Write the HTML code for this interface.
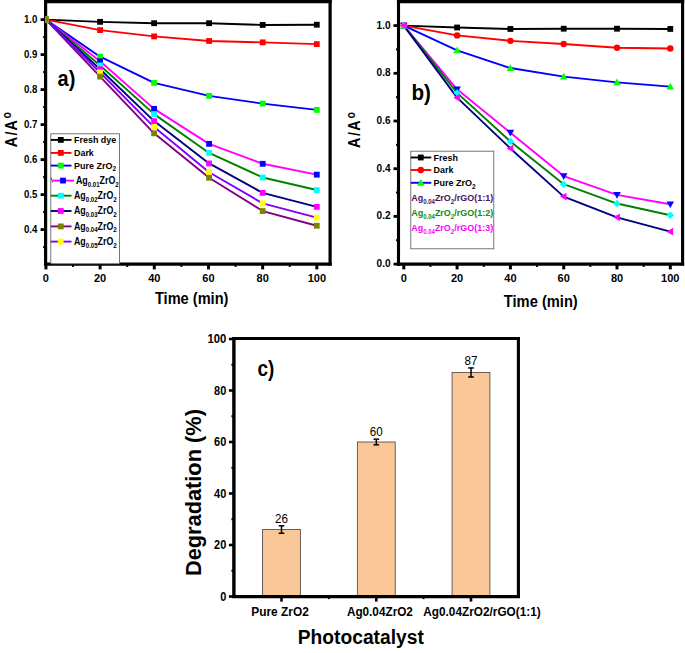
<!DOCTYPE html>
<html><head><meta charset="utf-8"><style>
html,body{margin:0;padding:0;background:#fff;}
body{width:685px;height:653px;overflow:hidden;}
svg{display:block;font-family:"Liberation Sans", sans-serif;}
</style></head><body>
<svg width="685" height="653" viewBox="0 0 685 653">
<rect width="685" height="653" fill="#fff"/>
<g id="chartA">
<line x1="45.6" y1="0" x2="45.6" y2="265.7" stroke="#000" stroke-width="3.2" />
<line x1="44" y1="264.1" x2="331.7" y2="264.1" stroke="#000" stroke-width="3.1" />
<line x1="330.1" y1="0" x2="330.1" y2="265.6" stroke="#000" stroke-width="3.2" />
<line x1="44" y1="1.6" x2="331.7" y2="1.6" stroke="#000" stroke-width="3.2" />
<line x1="40.6" y1="229.6" x2="45.6" y2="229.6" stroke="#000" stroke-width="2.8" />
<text x="37.3" y="232.6" font-size="11" font-weight="bold" text-anchor="end" fill="#000" textLength="13.4" lengthAdjust="spacingAndGlyphs" >0.4</text>
<line x1="40.6" y1="194.6" x2="45.6" y2="194.6" stroke="#000" stroke-width="2.8" />
<text x="37.3" y="197.6" font-size="11" font-weight="bold" text-anchor="end" fill="#000" textLength="13.4" lengthAdjust="spacingAndGlyphs" >0.5</text>
<line x1="40.6" y1="159.6" x2="45.6" y2="159.6" stroke="#000" stroke-width="2.8" />
<text x="37.3" y="162.6" font-size="11" font-weight="bold" text-anchor="end" fill="#000" textLength="13.4" lengthAdjust="spacingAndGlyphs" >0.6</text>
<line x1="40.6" y1="124.6" x2="45.6" y2="124.6" stroke="#000" stroke-width="2.8" />
<text x="37.3" y="127.6" font-size="11" font-weight="bold" text-anchor="end" fill="#000" textLength="13.4" lengthAdjust="spacingAndGlyphs" >0.7</text>
<line x1="40.6" y1="89.6" x2="45.6" y2="89.6" stroke="#000" stroke-width="2.8" />
<text x="37.3" y="92.6" font-size="11" font-weight="bold" text-anchor="end" fill="#000" textLength="13.4" lengthAdjust="spacingAndGlyphs" >0.8</text>
<line x1="40.6" y1="54.6" x2="45.6" y2="54.6" stroke="#000" stroke-width="2.8" />
<text x="37.3" y="57.6" font-size="11" font-weight="bold" text-anchor="end" fill="#000" textLength="13.4" lengthAdjust="spacingAndGlyphs" >0.9</text>
<line x1="40.6" y1="19.6" x2="45.6" y2="19.6" stroke="#000" stroke-width="2.8" />
<text x="37.3" y="22.6" font-size="11" font-weight="bold" text-anchor="end" fill="#000" textLength="13.4" lengthAdjust="spacingAndGlyphs" >1.0</text>
<line x1="43.1" y1="247.1" x2="45.6" y2="247.1" stroke="#000" stroke-width="2" />
<line x1="43.1" y1="212.1" x2="45.6" y2="212.1" stroke="#000" stroke-width="2" />
<line x1="43.1" y1="177.1" x2="45.6" y2="177.1" stroke="#000" stroke-width="2" />
<line x1="43.1" y1="142.1" x2="45.6" y2="142.1" stroke="#000" stroke-width="2" />
<line x1="43.1" y1="107.1" x2="45.6" y2="107.1" stroke="#000" stroke-width="2" />
<line x1="43.1" y1="72.1" x2="45.6" y2="72.1" stroke="#000" stroke-width="2" />
<line x1="43.1" y1="37.1" x2="45.6" y2="37.1" stroke="#000" stroke-width="2" />
<line x1="45.93" y1="264.1" x2="45.93" y2="269.4" stroke="#000" stroke-width="3" />
<text x="45.93" y="281.6" font-size="11" font-weight="bold" text-anchor="middle" fill="#000" >0</text>
<line x1="100.11" y1="264.1" x2="100.11" y2="269.4" stroke="#000" stroke-width="3" />
<text x="100.11" y="281.6" font-size="11" font-weight="bold" text-anchor="middle" fill="#000" >20</text>
<line x1="154.29" y1="264.1" x2="154.29" y2="269.4" stroke="#000" stroke-width="3" />
<text x="154.29" y="281.6" font-size="11" font-weight="bold" text-anchor="middle" fill="#000" >40</text>
<line x1="208.47" y1="264.1" x2="208.47" y2="269.4" stroke="#000" stroke-width="3" />
<text x="208.47" y="281.6" font-size="11" font-weight="bold" text-anchor="middle" fill="#000" >60</text>
<line x1="262.65" y1="264.1" x2="262.65" y2="269.4" stroke="#000" stroke-width="3" />
<text x="262.65" y="281.6" font-size="11" font-weight="bold" text-anchor="middle" fill="#000" >80</text>
<line x1="316.83" y1="264.1" x2="316.83" y2="269.4" stroke="#000" stroke-width="3" />
<text x="316.83" y="281.6" font-size="11" font-weight="bold" text-anchor="middle" fill="#000" >100</text>
<line x1="73.02" y1="264.1" x2="73.02" y2="266.9" stroke="#000" stroke-width="2" />
<line x1="127.2" y1="264.1" x2="127.2" y2="266.9" stroke="#000" stroke-width="2" />
<line x1="181.38" y1="264.1" x2="181.38" y2="266.9" stroke="#000" stroke-width="2" />
<line x1="235.56" y1="264.1" x2="235.56" y2="266.9" stroke="#000" stroke-width="2" />
<line x1="289.74" y1="264.1" x2="289.74" y2="266.9" stroke="#000" stroke-width="2" />
<text x="191.7" y="303.7" font-size="16" font-weight="bold" text-anchor="middle" fill="#000" textLength="73.5" lengthAdjust="spacingAndGlyphs" >Time (min)</text>
<text transform="translate(16.6,0) rotate(-90) scale(0.84,1)" font-size="17" font-weight="bold"><tspan x="-175.24" y="0">A</tspan><tspan x="-161.43" y="0">/</tspan><tspan x="-155.48" y="0">A</tspan><tspan x="-141.19" y="-5.2" font-size="12.5">o</tspan></text>
<text x="57.6" y="85.6" font-size="22" font-weight="bold" text-anchor="start" fill="#000" textLength="17.8" lengthAdjust="spacingAndGlyphs" >a)</text>
<clipPath id="clipA"><rect x="45.4" y="0" width="290" height="264"/></clipPath>
<g clip-path="url(#clipA)">
<polyline points="45.95,19.6 100.1,21.84 154.1,23.2 209.1,23.2 262.7,24.95 316.8,24.71" fill="none" stroke="#000000" stroke-width="1.9" stroke-linejoin="round"/>
<polyline points="45.95,19.6 100.1,30.1 154.1,36.4 209.1,40.95 262.7,42.35 316.8,44.1" fill="none" stroke="#FF0000" stroke-width="1.9" stroke-linejoin="round"/>
<polyline points="45.95,19.6 100.1,56.7 154.1,82.95 209.1,95.9 262.7,103.6 316.8,109.9" fill="none" stroke="#0000FF" stroke-width="1.9" stroke-linejoin="round"/>
<polyline points="45.95,19.6 100.1,61.25 154.1,108.85 209.1,143.85 262.7,163.8 316.8,174.65" fill="none" stroke="#FF00FF" stroke-width="1.9" stroke-linejoin="round"/>
<polyline points="45.95,19.6 100.1,65.45 154.1,114.1 209.1,152.95 262.7,177.45 316.8,190.05" fill="none" stroke="#008000" stroke-width="1.9" stroke-linejoin="round"/>
<polyline points="45.95,19.6 100.1,69.3 154.1,121.1 209.1,163.45 262.7,192.85 316.8,206.85" fill="none" stroke="#000080" stroke-width="1.9" stroke-linejoin="round"/>
<polyline points="45.95,19.6 100.1,76.65 154.1,133.35 209.1,177.8 262.7,211.05 316.8,225.75" fill="none" stroke="#800080" stroke-width="1.9" stroke-linejoin="round"/>
<polyline points="45.95,19.6 100.1,72.45 154.1,127.05 209.1,172.2 262.7,203.35 316.8,217.7" fill="none" stroke="#8000FF" stroke-width="1.9" stroke-linejoin="round"/>
<rect x="43.05" y="16.7" width="5.8" height="5.8" fill="#000000"/>
<rect x="97.2" y="18.94" width="5.8" height="5.8" fill="#000000"/>
<rect x="151.2" y="20.3" width="5.8" height="5.8" fill="#000000"/>
<rect x="206.2" y="20.3" width="5.8" height="5.8" fill="#000000"/>
<rect x="259.8" y="22.05" width="5.8" height="5.8" fill="#000000"/>
<rect x="313.9" y="21.81" width="5.8" height="5.8" fill="#000000"/>
<rect x="43.05" y="16.7" width="5.8" height="5.8" fill="#FF0000"/>
<rect x="97.2" y="27.2" width="5.8" height="5.8" fill="#FF0000"/>
<rect x="151.2" y="33.5" width="5.8" height="5.8" fill="#FF0000"/>
<rect x="206.2" y="38.05" width="5.8" height="5.8" fill="#FF0000"/>
<rect x="259.8" y="39.45" width="5.8" height="5.8" fill="#FF0000"/>
<rect x="313.9" y="41.2" width="5.8" height="5.8" fill="#FF0000"/>
<rect x="43.05" y="16.7" width="5.8" height="5.8" fill="#00FF00"/>
<rect x="97.2" y="53.8" width="5.8" height="5.8" fill="#00FF00"/>
<rect x="151.2" y="80.05" width="5.8" height="5.8" fill="#00FF00"/>
<rect x="206.2" y="93" width="5.8" height="5.8" fill="#00FF00"/>
<rect x="259.8" y="100.7" width="5.8" height="5.8" fill="#00FF00"/>
<rect x="313.9" y="107" width="5.8" height="5.8" fill="#00FF00"/>
<rect x="43.05" y="16.7" width="5.8" height="5.8" fill="#0000FF"/>
<rect x="97.2" y="58.35" width="5.8" height="5.8" fill="#0000FF"/>
<rect x="151.2" y="105.95" width="5.8" height="5.8" fill="#0000FF"/>
<rect x="206.2" y="140.95" width="5.8" height="5.8" fill="#0000FF"/>
<rect x="259.8" y="160.9" width="5.8" height="5.8" fill="#0000FF"/>
<rect x="313.9" y="171.75" width="5.8" height="5.8" fill="#0000FF"/>
<rect x="43.05" y="16.7" width="5.8" height="5.8" fill="#00FFFF"/>
<rect x="97.2" y="62.55" width="5.8" height="5.8" fill="#00FFFF"/>
<rect x="151.2" y="111.2" width="5.8" height="5.8" fill="#00FFFF"/>
<rect x="206.2" y="150.05" width="5.8" height="5.8" fill="#00FFFF"/>
<rect x="259.8" y="174.55" width="5.8" height="5.8" fill="#00FFFF"/>
<rect x="313.9" y="187.15" width="5.8" height="5.8" fill="#00FFFF"/>
<rect x="43.05" y="16.7" width="5.8" height="5.8" fill="#FF00FF"/>
<rect x="97.2" y="66.4" width="5.8" height="5.8" fill="#FF00FF"/>
<rect x="151.2" y="118.2" width="5.8" height="5.8" fill="#FF00FF"/>
<rect x="206.2" y="160.55" width="5.8" height="5.8" fill="#FF00FF"/>
<rect x="259.8" y="189.95" width="5.8" height="5.8" fill="#FF00FF"/>
<rect x="313.9" y="203.95" width="5.8" height="5.8" fill="#FF00FF"/>
<rect x="43.05" y="16.7" width="5.8" height="5.8" fill="#FFFF00"/>
<rect x="97.2" y="69.55" width="5.8" height="5.8" fill="#FFFF00"/>
<rect x="151.2" y="124.15" width="5.8" height="5.8" fill="#FFFF00"/>
<rect x="206.2" y="169.3" width="5.8" height="5.8" fill="#FFFF00"/>
<rect x="259.8" y="200.45" width="5.8" height="5.8" fill="#FFFF00"/>
<rect x="313.9" y="214.8" width="5.8" height="5.8" fill="#FFFF00"/>
<rect x="43.05" y="16.7" width="5.8" height="5.8" fill="#808000"/>
<rect x="97.2" y="73.75" width="5.8" height="5.8" fill="#808000"/>
<rect x="151.2" y="130.45" width="5.8" height="5.8" fill="#808000"/>
<rect x="206.2" y="174.9" width="5.8" height="5.8" fill="#808000"/>
<rect x="259.8" y="208.15" width="5.8" height="5.8" fill="#808000"/>
<rect x="313.9" y="222.85" width="5.8" height="5.8" fill="#808000"/>
</g>
<rect x="50.8" y="133.8" width="68.6" height="130" fill="#fff" stroke="#555" stroke-width="0.8"/>
<line x1="51.4" y1="177.6" x2="52.4" y2="182.6" stroke="#444" stroke-width="0.9" />
<line x1="50.8" y1="139.9" x2="71.5" y2="139.9" stroke="#000000" stroke-width="1.9" />
<rect x="57.9" y="137" width="5.8" height="5.8" fill="#000000"/>
<text x="74" y="143.3" font-size="9.6" font-weight="bold" text-anchor="start" fill="#000" textLength="42.3" lengthAdjust="spacingAndGlyphs" >Fresh dye</text>
<line x1="50.8" y1="152.9" x2="71.5" y2="152.9" stroke="#FF0000" stroke-width="1.9" />
<rect x="57.9" y="150" width="5.8" height="5.8" fill="#FF0000"/>
<text x="74" y="156.3" font-size="9.6" font-weight="bold" text-anchor="start" fill="#000" textLength="19.8" lengthAdjust="spacingAndGlyphs" >Dark</text>
<line x1="50.8" y1="165.6" x2="71.5" y2="165.6" stroke="#0000FF" stroke-width="1.9" />
<rect x="57.9" y="162.7" width="5.8" height="5.8" fill="#00FF00"/>
<text x="74" y="169" font-size="9.6" font-weight="bold" text-anchor="start" fill="#000" textLength="42" lengthAdjust="spacingAndGlyphs" >Pure ZrO<tspan font-size="6.8" dy="2.4">2</tspan></text>
<line x1="52.5" y1="180.6" x2="74" y2="180.6" stroke="#FF00FF" stroke-width="1.9" />
<rect x="60.1" y="177.7" width="5.8" height="5.8" fill="#0000FF"/>
<text x="76" y="184" font-size="10.2" font-weight="bold" text-anchor="start" fill="#000" textLength="42.8" lengthAdjust="spacingAndGlyphs" >Ag<tspan font-size="7" dy="2.6">0.01</tspan><tspan dy="-2.6">ZrO</tspan><tspan font-size="7.3" dy="2.6">2</tspan></text>
<line x1="50.8" y1="195.7" x2="71.5" y2="195.7" stroke="#008000" stroke-width="1.9" />
<rect x="57.9" y="192.8" width="5.8" height="5.8" fill="#00FFFF"/>
<text x="74" y="199.1" font-size="10.2" font-weight="bold" text-anchor="start" fill="#000" textLength="42.8" lengthAdjust="spacingAndGlyphs" >Ag<tspan font-size="7" dy="2.6">0.02</tspan><tspan dy="-2.6">ZrO</tspan><tspan font-size="7.3" dy="2.6">2</tspan></text>
<line x1="50.8" y1="211" x2="71.5" y2="211" stroke="#000080" stroke-width="1.9" />
<rect x="57.9" y="208.1" width="5.8" height="5.8" fill="#FF00FF"/>
<text x="74" y="214.4" font-size="10.2" font-weight="bold" text-anchor="start" fill="#000" textLength="42.8" lengthAdjust="spacingAndGlyphs" >Ag<tspan font-size="7" dy="2.6">0.03</tspan><tspan dy="-2.6">ZrO</tspan><tspan font-size="7.3" dy="2.6">2</tspan></text>
<line x1="50.8" y1="226.4" x2="71.5" y2="226.4" stroke="#800080" stroke-width="1.9" />
<rect x="57.9" y="223.5" width="5.8" height="5.8" fill="#808000"/>
<text x="74" y="229.8" font-size="10.2" font-weight="bold" text-anchor="start" fill="#000" textLength="42.8" lengthAdjust="spacingAndGlyphs" >Ag<tspan font-size="7" dy="2.6">0.04</tspan><tspan dy="-2.6">ZrO</tspan><tspan font-size="7.3" dy="2.6">2</tspan></text>
<line x1="50.8" y1="241.6" x2="71.5" y2="241.6" stroke="#8000FF" stroke-width="1.9" />
<rect x="57.9" y="238.7" width="5.8" height="5.8" fill="#FFFF00"/>
<text x="74" y="245" font-size="10.2" font-weight="bold" text-anchor="start" fill="#000" textLength="42.8" lengthAdjust="spacingAndGlyphs" >Ag<tspan font-size="7" dy="2.6">0.05</tspan><tspan dy="-2.6">ZrO</tspan><tspan font-size="7.3" dy="2.6">2</tspan></text>
</g>
<g id="chartB">
<line x1="398.5" y1="0" x2="398.5" y2="265.7" stroke="#000" stroke-width="3.1" />
<line x1="396.9" y1="264.1" x2="684.2" y2="264.1" stroke="#000" stroke-width="3.1" />
<line x1="682.6" y1="0" x2="682.6" y2="265.6" stroke="#000" stroke-width="3.1" />
<line x1="396.9" y1="1.6" x2="684.2" y2="1.6" stroke="#000" stroke-width="3.2" />
<line x1="393.5" y1="264.1" x2="398.5" y2="264.1" stroke="#000" stroke-width="2.8" />
<text x="390.6" y="267.1" font-size="11" font-weight="bold" text-anchor="end" fill="#000" textLength="14" lengthAdjust="spacingAndGlyphs" >0.0</text>
<line x1="393.5" y1="216.4" x2="398.5" y2="216.4" stroke="#000" stroke-width="2.8" />
<text x="390.6" y="219.4" font-size="11" font-weight="bold" text-anchor="end" fill="#000" textLength="14" lengthAdjust="spacingAndGlyphs" >0.2</text>
<line x1="393.5" y1="168.7" x2="398.5" y2="168.7" stroke="#000" stroke-width="2.8" />
<text x="390.6" y="171.7" font-size="11" font-weight="bold" text-anchor="end" fill="#000" textLength="14" lengthAdjust="spacingAndGlyphs" >0.4</text>
<line x1="393.5" y1="121" x2="398.5" y2="121" stroke="#000" stroke-width="2.8" />
<text x="390.6" y="124" font-size="11" font-weight="bold" text-anchor="end" fill="#000" textLength="14" lengthAdjust="spacingAndGlyphs" >0.6</text>
<line x1="393.5" y1="73.3" x2="398.5" y2="73.3" stroke="#000" stroke-width="2.8" />
<text x="390.6" y="76.3" font-size="11" font-weight="bold" text-anchor="end" fill="#000" textLength="14" lengthAdjust="spacingAndGlyphs" >0.8</text>
<line x1="393.5" y1="25.6" x2="398.5" y2="25.6" stroke="#000" stroke-width="2.8" />
<text x="390.6" y="28.6" font-size="11" font-weight="bold" text-anchor="end" fill="#000" textLength="14" lengthAdjust="spacingAndGlyphs" >1.0</text>
<line x1="396" y1="240.25" x2="398.5" y2="240.25" stroke="#000" stroke-width="2" />
<line x1="396" y1="192.55" x2="398.5" y2="192.55" stroke="#000" stroke-width="2" />
<line x1="396" y1="144.85" x2="398.5" y2="144.85" stroke="#000" stroke-width="2" />
<line x1="396" y1="97.15" x2="398.5" y2="97.15" stroke="#000" stroke-width="2" />
<line x1="396" y1="49.45" x2="398.5" y2="49.45" stroke="#000" stroke-width="2" />
<line x1="403.8" y1="264.1" x2="403.8" y2="269.4" stroke="#000" stroke-width="3" />
<text x="403.8" y="282.2" font-size="11" font-weight="bold" text-anchor="middle" fill="#000" >0</text>
<line x1="457.1" y1="264.1" x2="457.1" y2="269.4" stroke="#000" stroke-width="3" />
<text x="457.1" y="282.2" font-size="11" font-weight="bold" text-anchor="middle" fill="#000" >20</text>
<line x1="510.4" y1="264.1" x2="510.4" y2="269.4" stroke="#000" stroke-width="3" />
<text x="510.4" y="282.2" font-size="11" font-weight="bold" text-anchor="middle" fill="#000" >40</text>
<line x1="563.7" y1="264.1" x2="563.7" y2="269.4" stroke="#000" stroke-width="3" />
<text x="563.7" y="282.2" font-size="11" font-weight="bold" text-anchor="middle" fill="#000" >60</text>
<line x1="617" y1="264.1" x2="617" y2="269.4" stroke="#000" stroke-width="3" />
<text x="617" y="282.2" font-size="11" font-weight="bold" text-anchor="middle" fill="#000" >80</text>
<line x1="670.3" y1="264.1" x2="670.3" y2="269.4" stroke="#000" stroke-width="3" />
<text x="670.3" y="282.2" font-size="11" font-weight="bold" text-anchor="middle" fill="#000" >100</text>
<line x1="430.45" y1="264.1" x2="430.45" y2="266.9" stroke="#000" stroke-width="2" />
<line x1="483.75" y1="264.1" x2="483.75" y2="266.9" stroke="#000" stroke-width="2" />
<line x1="537.05" y1="264.1" x2="537.05" y2="266.9" stroke="#000" stroke-width="2" />
<line x1="590.35" y1="264.1" x2="590.35" y2="266.9" stroke="#000" stroke-width="2" />
<line x1="643.65" y1="264.1" x2="643.65" y2="266.9" stroke="#000" stroke-width="2" />
<text x="540.8" y="307.3" font-size="16" font-weight="bold" text-anchor="middle" fill="#000" textLength="73.9" lengthAdjust="spacingAndGlyphs" >Time (min)</text>
<text transform="translate(360.2,0) rotate(-90) scale(0.84,1)" font-size="17" font-weight="bold"><tspan x="-176.07" y="0">A</tspan><tspan x="-161.9" y="0">/</tspan><tspan x="-155.6" y="0">A</tspan><tspan x="-141.19" y="-5.2" font-size="12.5">o</tspan></text>
<text x="411.5" y="100" font-size="22" font-weight="bold" text-anchor="start" fill="#000" textLength="19.5" lengthAdjust="spacingAndGlyphs" >b)</text>
<polyline points="403.8,25.6 457.1,27.51 510.4,28.94 563.7,28.7 617,28.7 670.3,28.94" fill="none" stroke="#000000" stroke-width="1.9" stroke-linejoin="round"/>
<polyline points="403.8,25.6 457.1,35.38 510.4,40.86 563.7,43.96 617,47.78 670.3,48.5" fill="none" stroke="#FF0000" stroke-width="1.9" stroke-linejoin="round"/>
<polyline points="403.8,25.6 457.1,50.4 510.4,68.05 563.7,76.64 617,82.36 670.3,86.66" fill="none" stroke="#0000FF" stroke-width="1.9" stroke-linejoin="round"/>
<polyline points="403.8,25.6 457.1,89.28 510.4,132.69 563.7,176.09 617,194.93 670.3,204.24" fill="none" stroke="#FF00FF" stroke-width="1.9" stroke-linejoin="round"/>
<polyline points="403.8,25.6 457.1,92.86 510.4,141.51 563.7,184.2 617,203.52 670.3,215.21" fill="none" stroke="#008000" stroke-width="1.9" stroke-linejoin="round"/>
<polyline points="403.8,25.6 457.1,97.63 510.4,148.43 563.7,196.6 617,217.35 670.3,231.66" fill="none" stroke="#000080" stroke-width="1.9" stroke-linejoin="round"/>
<rect x="400.9" y="22.7" width="5.8" height="5.8" fill="#000000"/>
<rect x="454.2" y="24.61" width="5.8" height="5.8" fill="#000000"/>
<rect x="507.5" y="26.04" width="5.8" height="5.8" fill="#000000"/>
<rect x="560.8" y="25.8" width="5.8" height="5.8" fill="#000000"/>
<rect x="614.1" y="25.8" width="5.8" height="5.8" fill="#000000"/>
<rect x="667.4" y="26.04" width="5.8" height="5.8" fill="#000000"/>
<circle cx="403.8" cy="25.6" r="3.2" fill="#FF0000"/>
<circle cx="457.1" cy="35.38" r="3.2" fill="#FF0000"/>
<circle cx="510.4" cy="40.86" r="3.2" fill="#FF0000"/>
<circle cx="563.7" cy="43.96" r="3.2" fill="#FF0000"/>
<circle cx="617" cy="47.78" r="3.2" fill="#FF0000"/>
<circle cx="670.3" cy="48.5" r="3.2" fill="#FF0000"/>
<polygon points="403.8,21.8 407.6,28.45 400,28.45" fill="#00FF00"/>
<polygon points="457.1,46.6 460.9,53.25 453.3,53.25" fill="#00FF00"/>
<polygon points="510.4,64.25 514.2,70.9 506.6,70.9" fill="#00FF00"/>
<polygon points="563.7,72.84 567.5,79.49 559.9,79.49" fill="#00FF00"/>
<polygon points="617,78.56 620.8,85.21 613.2,85.21" fill="#00FF00"/>
<polygon points="670.3,82.86 674.1,89.51 666.5,89.51" fill="#00FF00"/>
<polygon points="403.8,29.4 407.6,22.75 400,22.75" fill="#0000FF"/>
<polygon points="457.1,93.08 460.9,86.43 453.3,86.43" fill="#0000FF"/>
<polygon points="510.4,136.49 514.2,129.84 506.6,129.84" fill="#0000FF"/>
<polygon points="563.7,179.89 567.5,173.24 559.9,173.24" fill="#0000FF"/>
<polygon points="617,198.73 620.8,192.08 613.2,192.08" fill="#0000FF"/>
<polygon points="670.3,208.04 674.1,201.39 666.5,201.39" fill="#0000FF"/>
<polygon points="403.8,21.9 407.5,25.6 403.8,29.3 400.1,25.6" fill="#00FFFF"/>
<polygon points="457.1,89.16 460.8,92.86 457.1,96.56 453.4,92.86" fill="#00FFFF"/>
<polygon points="510.4,137.81 514.1,141.51 510.4,145.21 506.7,141.51" fill="#00FFFF"/>
<polygon points="563.7,180.5 567.4,184.2 563.7,187.9 560,184.2" fill="#00FFFF"/>
<polygon points="617,199.82 620.7,203.52 617,207.22 613.3,203.52" fill="#00FFFF"/>
<polygon points="670.3,211.51 674,215.21 670.3,218.91 666.6,215.21" fill="#00FFFF"/>
<polygon points="400,25.6 406.65,21.8 406.65,29.4" fill="#FF00FF"/>
<polygon points="453.3,97.63 459.95,93.83 459.95,101.43" fill="#FF00FF"/>
<polygon points="506.6,148.43 513.25,144.63 513.25,152.23" fill="#FF00FF"/>
<polygon points="559.9,196.6 566.55,192.8 566.55,200.4" fill="#FF00FF"/>
<polygon points="613.2,217.35 619.85,213.55 619.85,221.15" fill="#FF00FF"/>
<polygon points="666.5,231.66 673.15,227.86 673.15,235.46" fill="#FF00FF"/>
<rect x="410.8" y="151.2" width="83" height="97.6" fill="#fff" stroke="#555" stroke-width="0.8"/>
<line x1="410.8" y1="157.5" x2="431.3" y2="157.5" stroke="#000000" stroke-width="1.9" />
<rect x="417.9" y="154.6" width="5.8" height="5.8" fill="#000000"/>
<text x="433.6" y="160.9" font-size="9.6" font-weight="bold" text-anchor="start" fill="#000" textLength="24.3" lengthAdjust="spacingAndGlyphs" >Fresh</text>
<line x1="410.8" y1="170" x2="431.3" y2="170" stroke="#FF0000" stroke-width="1.9" />
<circle cx="420.8" cy="170" r="3.2" fill="#FF0000"/>
<text x="433.6" y="173.4" font-size="9.6" font-weight="bold" text-anchor="start" fill="#000" textLength="19.8" lengthAdjust="spacingAndGlyphs" >Dark</text>
<line x1="410.8" y1="182.8" x2="431.3" y2="182.8" stroke="#0000FF" stroke-width="1.9" />
<polygon points="420.8,179 424.6,185.65 417,185.65" fill="#00FF00"/>
<text x="433.6" y="186.2" font-size="9.6" font-weight="bold" text-anchor="start" fill="#000" textLength="42" lengthAdjust="spacingAndGlyphs" >Pure ZrO<tspan font-size="6.8" dy="2.4">2</tspan></text>
<text x="411.2" y="201.1" font-size="9.8" font-weight="bold" text-anchor="start" fill="#4B0F63" textLength="82" lengthAdjust="spacingAndGlyphs" >Ag<tspan font-size="6.6" dy="2.5">0.04</tspan><tspan dy="-2.5">ZrO</tspan><tspan font-size="6.8999999999999995" dy="2.5">2</tspan><tspan dy="-2.5">/rGO(1:1)</tspan></text>
<text x="411.2" y="216.1" font-size="9.8" font-weight="bold" text-anchor="start" fill="#108A10" textLength="82" lengthAdjust="spacingAndGlyphs" >Ag<tspan font-size="6.6" dy="2.5">0.04</tspan><tspan dy="-2.5">ZrO</tspan><tspan font-size="6.8999999999999995" dy="2.5">2</tspan><tspan dy="-2.5">/rGO(1:2)</tspan></text>
<text x="411.2" y="231.2" font-size="9.8" font-weight="bold" text-anchor="start" fill="#FF00FF" textLength="82" lengthAdjust="spacingAndGlyphs" >Ag<tspan font-size="6.6" dy="2.5">0.04</tspan><tspan dy="-2.5">ZrO</tspan><tspan font-size="6.8999999999999995" dy="2.5">2</tspan><tspan dy="-2.5">/rGO(1:3)</tspan></text>
</g>
<g id="chartC">
<rect x="262.6" y="529.55" width="37.8" height="66.95" fill="#FAC898" stroke="#5a5048" stroke-width="0.9"/>
<line x1="281.5" y1="525.82" x2="281.5" y2="533.28" stroke="#000" stroke-width="1.5" />
<line x1="278.7" y1="525.82" x2="284.3" y2="525.82" stroke="#000" stroke-width="1.5" />
<line x1="278.7" y1="533.28" x2="284.3" y2="533.28" stroke="#000" stroke-width="1.5" />
<text x="281.5" y="523.4" font-size="13.3" font-weight="normal" text-anchor="middle" fill="#000" textLength="12.9" lengthAdjust="spacingAndGlyphs" >26</text>
<rect x="357.4" y="442" width="37.8" height="154.5" fill="#FAC898" stroke="#5a5048" stroke-width="0.9"/>
<line x1="376.3" y1="439.17" x2="376.3" y2="444.83" stroke="#000" stroke-width="1.5" />
<line x1="373.5" y1="439.17" x2="379.1" y2="439.17" stroke="#000" stroke-width="1.5" />
<line x1="373.5" y1="444.83" x2="379.1" y2="444.83" stroke="#000" stroke-width="1.5" />
<text x="376.3" y="436.3" font-size="13.3" font-weight="normal" text-anchor="middle" fill="#000" textLength="12.9" lengthAdjust="spacingAndGlyphs" >60</text>
<rect x="452.1" y="372.48" width="37.8" height="224.02" fill="#FAC898" stroke="#5a5048" stroke-width="0.9"/>
<line x1="471" y1="367.97" x2="471" y2="376.98" stroke="#000" stroke-width="1.5" />
<line x1="468.2" y1="367.97" x2="473.8" y2="367.97" stroke="#000" stroke-width="1.5" />
<line x1="468.2" y1="376.98" x2="473.8" y2="376.98" stroke="#000" stroke-width="1.5" />
<text x="471" y="365" font-size="13.3" font-weight="normal" text-anchor="middle" fill="#000" textLength="12.9" lengthAdjust="spacingAndGlyphs" >87</text>
<line x1="233.9" y1="337.1" x2="233.9" y2="598.1" stroke="#000" stroke-width="3.4" />
<line x1="232.2" y1="596.6" x2="519.95" y2="596.6" stroke="#000" stroke-width="3.2" />
<line x1="518.4" y1="337.1" x2="518.4" y2="598.1" stroke="#000" stroke-width="3.1" />
<line x1="232.2" y1="338.5" x2="519.95" y2="338.5" stroke="#000" stroke-width="2.9" />
<line x1="228.9" y1="596.5" x2="233.9" y2="596.5" stroke="#000" stroke-width="2.6" />
<text x="226.3" y="600.8" font-size="12" font-weight="bold" text-anchor="end" fill="#000" textLength="6.1" lengthAdjust="spacingAndGlyphs" >0</text>
<line x1="228.9" y1="545" x2="233.9" y2="545" stroke="#000" stroke-width="2.6" />
<text x="226.3" y="549.3" font-size="12" font-weight="bold" text-anchor="end" fill="#000" textLength="12.2" lengthAdjust="spacingAndGlyphs" >20</text>
<line x1="228.9" y1="493.5" x2="233.9" y2="493.5" stroke="#000" stroke-width="2.6" />
<text x="226.3" y="497.8" font-size="12" font-weight="bold" text-anchor="end" fill="#000" textLength="12.2" lengthAdjust="spacingAndGlyphs" >40</text>
<line x1="228.9" y1="442" x2="233.9" y2="442" stroke="#000" stroke-width="2.6" />
<text x="226.3" y="446.3" font-size="12" font-weight="bold" text-anchor="end" fill="#000" textLength="12.2" lengthAdjust="spacingAndGlyphs" >60</text>
<line x1="228.9" y1="390.5" x2="233.9" y2="390.5" stroke="#000" stroke-width="2.6" />
<text x="226.3" y="394.8" font-size="12" font-weight="bold" text-anchor="end" fill="#000" textLength="12.2" lengthAdjust="spacingAndGlyphs" >80</text>
<line x1="228.9" y1="339" x2="233.9" y2="339" stroke="#000" stroke-width="2.6" />
<text x="226.3" y="343.3" font-size="12" font-weight="bold" text-anchor="end" fill="#000" textLength="18.8" lengthAdjust="spacingAndGlyphs" >100</text>
<line x1="231.4" y1="570.75" x2="233.9" y2="570.75" stroke="#000" stroke-width="2" />
<line x1="231.4" y1="519.25" x2="233.9" y2="519.25" stroke="#000" stroke-width="2" />
<line x1="231.4" y1="467.75" x2="233.9" y2="467.75" stroke="#000" stroke-width="2" />
<line x1="231.4" y1="416.25" x2="233.9" y2="416.25" stroke="#000" stroke-width="2" />
<line x1="231.4" y1="364.75" x2="233.9" y2="364.75" stroke="#000" stroke-width="2" />
<line x1="281.5" y1="596.6" x2="281.5" y2="601.6" stroke="#000" stroke-width="2.6" />
<line x1="376.3" y1="596.6" x2="376.3" y2="601.6" stroke="#000" stroke-width="2.6" />
<line x1="471" y1="596.6" x2="471" y2="601.6" stroke="#000" stroke-width="2.6" />
<line x1="328.9" y1="596.6" x2="328.9" y2="599.1" stroke="#000" stroke-width="2" />
<line x1="423.6" y1="596.6" x2="423.6" y2="599.1" stroke="#000" stroke-width="2" />
<text x="280" y="615.8" font-size="12" font-weight="bold" text-anchor="middle" fill="#000" textLength="57.5" lengthAdjust="spacingAndGlyphs" >Pure ZrO2</text>
<text x="379.9" y="615.8" font-size="12" font-weight="bold" text-anchor="middle" fill="#000" textLength="66" lengthAdjust="spacingAndGlyphs" >Ag0.04ZrO2</text>
<text x="482" y="615.8" font-size="12" font-weight="bold" text-anchor="middle" fill="#000" textLength="117.4" lengthAdjust="spacingAndGlyphs" >Ag0.04ZrO2/rGO(1:1)</text>
<text x="360.8" y="643.7" font-size="19.5" font-weight="bold" text-anchor="middle" fill="#000" textLength="126" lengthAdjust="spacingAndGlyphs" >Photocatalyst</text>
<text transform="translate(201,492.6) rotate(-90)" x="0" y="0" font-size="21.5" font-weight="bold" text-anchor="middle" textLength="167" lengthAdjust="spacingAndGlyphs">Degradation (%)</text>
<text x="257.5" y="375.8" font-size="22" font-weight="bold" text-anchor="start" fill="#000" textLength="16.8" lengthAdjust="spacingAndGlyphs" >c)</text>
</g>
</svg>
</body></html>
